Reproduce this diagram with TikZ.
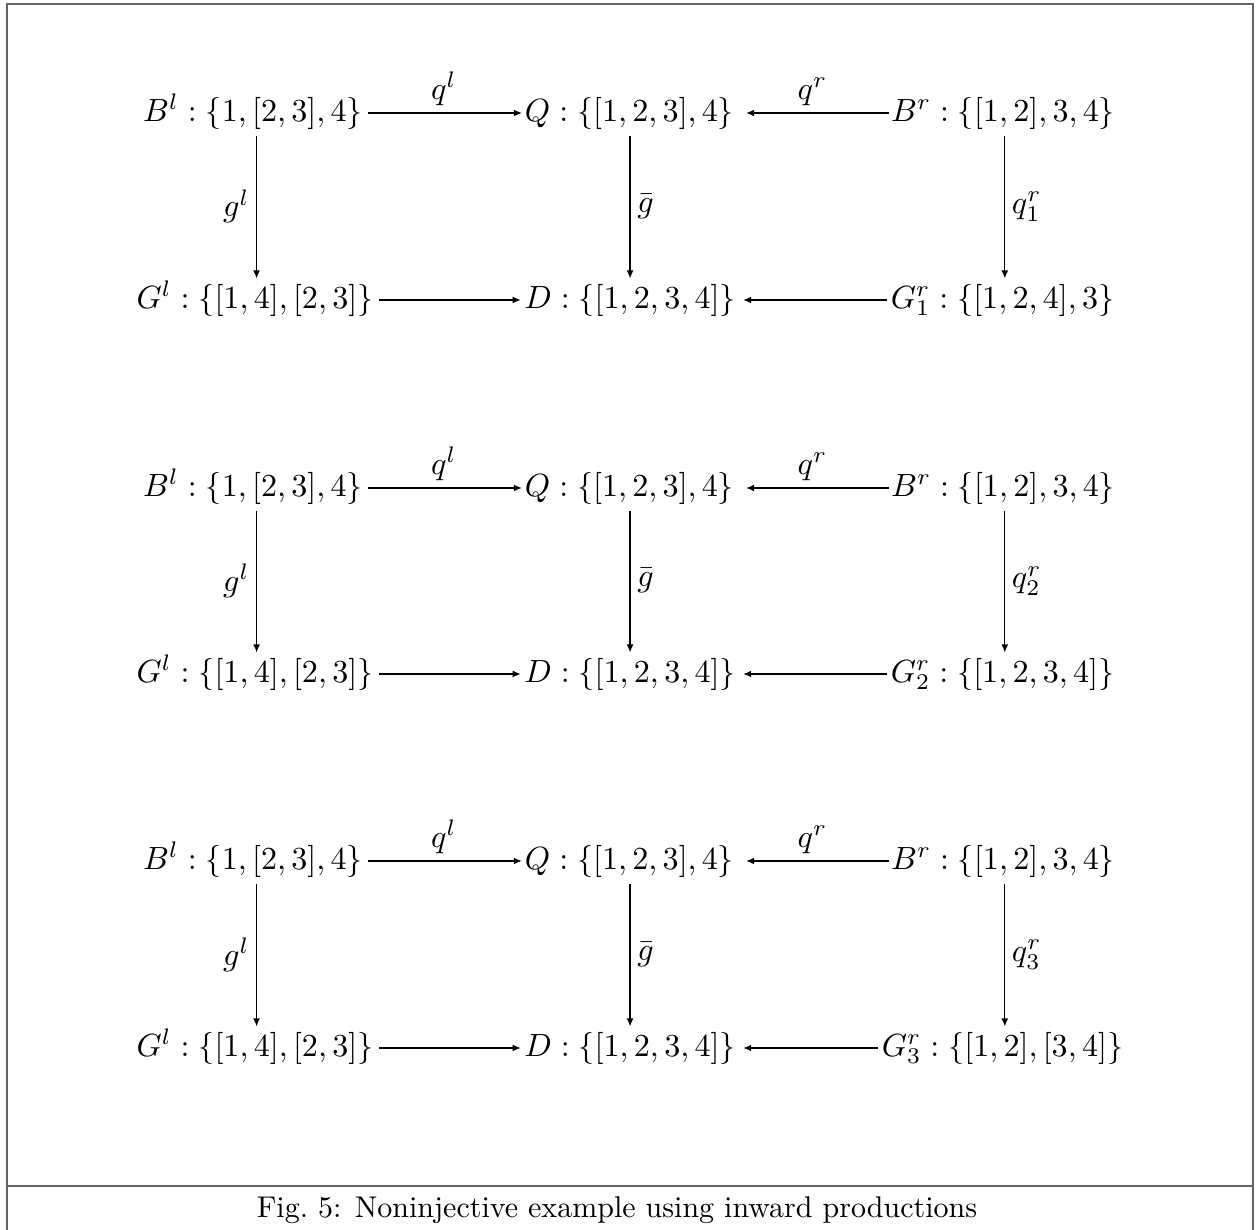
\documentclass[tikz,border=0pt]{standalone}
\usetikzlibrary{arrows.meta}
\definecolor{framegray}{RGB}{100,100,100}
\begin{document}
\begin{tikzpicture}[x=0.3333pt,y=-0.3333pt,
  obj/.style={inner sep=0pt,text height=7.5pt,text depth=2.5pt,scale=1.07},
  arr/.style={-{Latex[length=2.7pt,width=2.3pt]},line width=0.45pt},
  lbl/.style={inner sep=2pt,scale=1.07},
  framestyle/.style={draw=framegray,line width=0.6pt}]
\useasboundingbox (0,0) rectangle (1257,1230);
\draw[framestyle] (7,1240) -- (7,4) -- (1253,4) -- (1253,1240);
\draw[framestyle] (7,1186) -- (1253,1186);
\node[inner sep=0pt,anchor=base] (cap) at (617,1217) {Fig.~5: Noninjective example using inward productions};

\foreach \k/\yt/\yb/\grtext in {1/113/300/{G^r_1 : \{[1,2,4],3\}},
                                2/488/674/{G^r_2 : \{[1,2,3,4]\}},
                                3/861/1048/{G^r_3 : \{[1,2],[3,4]\}}}{
  \node[obj] (Bl\k) at (253,\yt) {$B^l : \{1,[2,3],4\}$};
  \node[obj] (Q\k)  at (629.5,\yt) {$Q : \{[1,2,3],4\}$};
  \node[obj] (Br\k) at (1003,\yt) {$B^r : \{[1,2],3,4\}$};
  \node[obj] (Gl\k) at (255,\yb) {$G^l : \{[1,4],[2,3]\}$};
  \node[obj] (D\k)  at (630,\yb) {$D : \{[1,2,3,4]\}$};
  \node[obj] (Gr\k) at (1002.5,\yb) {$\grtext$};
  % horizontal arrows
  \draw[arr,shorten <=1.4pt,shorten >=0.8pt] (Bl\k.east) -- node[lbl,above] {$q^l$} (Q\k.west);
  \draw[arr,shorten <=0.5pt,shorten >=3.8pt] (Br\k.west) -- node[lbl,above] {$q^r$} (Q\k.east);
  \draw[arr,shorten <=1.8pt,shorten >=1pt] (Gl\k.east) -- (D\k.west);
  \draw[arr,shorten <=1.2pt,shorten >=2.3pt] (Gr\k.west) -- (D\k.east);
  % vertical arrows
  \draw[arr,shorten <=2pt,shorten >=1.6pt] ([xshift=1.2pt]Bl\k.south) -- node[lbl,left] {$g^l$} ([xshift=1.2pt]Bl\k.south |- Gl\k.north);
  \draw[arr,shorten <=2pt,shorten >=1.6pt] ([xshift=0.2pt]Q\k.south) -- node[lbl,right] {$\bar g$} ([xshift=0.2pt]Q\k.south |- D\k.north);
  \draw[arr,shorten <=2pt,shorten >=1.6pt] ([xshift=0.6pt]Br\k.south) -- node[lbl,right] {$q^r_{\k}$} ([xshift=0.6pt]Br\k.south |- Gr\k.north);
}
\end{tikzpicture}
\end{document}
